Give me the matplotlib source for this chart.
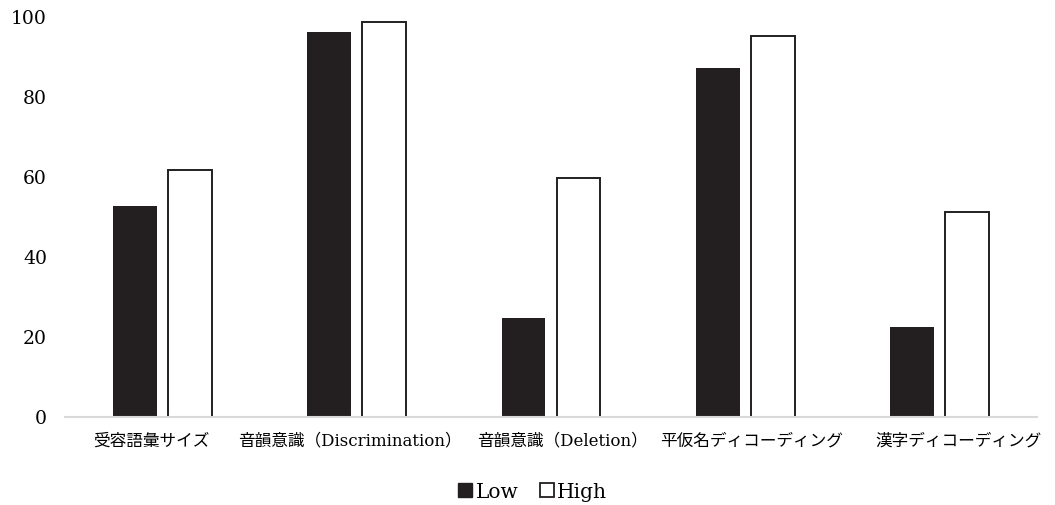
import matplotlib
matplotlib.use('Agg')
import matplotlib.pyplot as plt
import matplotlib.transforms as mtransforms
import numpy as np
from matplotlib.lines import Line2D

# Font: serif latin with CJK fallback
plt.rcParams['font.family'] = ['DejaVu Serif', 'Noto Sans CJK JP']

categories = ['受容語彙サイズ', '音韻意識（Discrimination）', '音韻意識（Deletion）',
              '平仮名ディコーディング', '漢字ディコーディング']
low_values = [52.8, 96.2, 24.7, 87.2, 22.6]
high_values = [61.7, 98.8, 59.8, 95.3, 51.3]
y_ticks = [0, 20, 40, 60, 80, 100]

dark = '#231f20'

fig = plt.figure(figsize=(10.55, 5.05), dpi=100)
ax = fig.add_axes([65 / 1055, 88 / 505, 972 / 1055, 400 / 505])

x = np.arange(len(categories))
w = 0.226
gap = 0.057
ax.bar(x - (w + gap) / 2, low_values, width=w, color=dark, label='Low', zorder=2)
ax.bar(x + (w + gap) / 2, high_values, width=w, color='white', edgecolor=dark,
       linewidth=1.4, label='High', zorder=2)

ax.set_xlim(-0.5, len(categories) - 0.5)
ax.set_ylim(0, 100)
ax.set_yticks(y_ticks)
ax.set_yticklabels([str(t) for t in y_ticks], fontsize=13.5)
ax.set_xticks(x)
ax.set_xticklabels(categories, fontsize=12)
ax.tick_params(axis='both', length=0)
ax.tick_params(axis='y', pad=13)
ax.tick_params(axis='x', pad=11)

# nudge category labels sideways a little, like the original layout (pixels)
label_shift = [-11, -7, 11, 6, 19]
for lbl, dx in zip(ax.get_xticklabels(), label_shift):
    lbl.set_transform(lbl.get_transform() +
                      mtransforms.ScaledTranslation(dx / 100, 0, fig.dpi_scale_trans))

for s in ['top', 'right', 'left']:
    ax.spines[s].set_visible(False)
ax.spines['bottom'].set_color('#d9d9d9')
ax.spines['bottom'].set_linewidth(1.5)
ax.spines['bottom'].set_zorder(3)

handles = [Line2D([], [], marker='s', linestyle='none', markersize=10,
                  markerfacecolor=dark, markeredgecolor=dark),
           Line2D([], [], marker='s', linestyle='none', markersize=9.5,
                  markerfacecolor='white', markeredgecolor=dark, markeredgewidth=1.3)]
fig.legend(handles, ['Low', 'High'], loc='center', bbox_to_anchor=(531 / 1055, 1 - 492 / 505),
           ncol=2, frameon=False, fontsize=14.5, handletextpad=0.0, columnspacing=0.9,
           handlelength=1.0)

fig.savefig('out.png', dpi=100)
